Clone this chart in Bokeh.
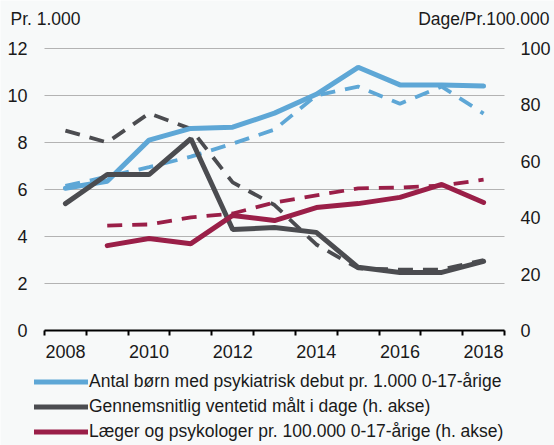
import numpy as np
from bokeh.plotting import figure
from bokeh.models import Range1d, LinearAxis, FixedTicker, Legend, LegendItem
from bokeh.core.properties import value
from bokeh.embed import file_html
from bokeh.resources import INLINE

# ---- data ----
years = list(range(2008, 2019))
born_solid = [6.05, 6.35, 8.1, 8.6, 8.65, 9.25, 10.05, 11.2, 10.45, 10.45, 10.4]
born_dash = [6.15, 6.55, 6.95, 7.4, 7.95, 8.55, 10.0, 10.38, 9.65, 10.38, 9.23]
vent_solid = [45.0, 55.3, 55.3, 68.0, 35.8, 36.5, 34.8, 22.4, 20.6, 20.6, 24.5]
vent_dash = [70.9, 66.7, 77.0, 71.5, 52.5, 44.5, 30.5, 22.0, 21.6, 21.6, 25.0]
laeg_solid = [np.nan, 30.1, 32.6, 30.8, 40.8, 39.0, 43.6, 45.0, 47.2, 51.8, 45.4]
laeg_dash = [np.nan, 37.2, 37.6, 40.1, 41.5, 45.4, 47.9, 50.4, 50.7, 51.4, 53.5]

left_ticks = [0, 2, 4, 6, 8, 10, 12]
right_ticks = [0, 20, 40, 60, 80, 100]
year_ticks = [2008, 2010, 2012, 2014, 2016, 2018]
year_bounds = [2007.5 + i for i in range(12)]

labels = [
    "Antal børn med psykiatrisk debut pr. 1.000 0-17-årige",
    "Gennemsnitlig ventetid målt i dage (h. akse)",
    "Læger og psykologer pr. 100.000 0-17-årige (h. akse)",
]
title_left = "Pr. 1.000"
title_right = "Dage/Pr.100.000"

# ---- style / layout ----
BG = "#f7f9f9"
BLUE = "#5ea7d6"
GRAY = "#4b4c50"
RED = "#9a1f48"
FONT = "Liberation Sans"
TXT = "#1a1a1a"
W, H = 554, 445
PL, PR, PT, PB = 44, 504, 48, 330          # plot area in pixels
X0, X1 = 2007.5, 2018.5
L0, L1 = 0, 12
R0, R1 = 0, 100

xs = (PR - PL) / (X1 - X0)
ls = (PB - PT) / (L1 - L0)
rs = (PB - PT) / (R1 - R0)
x_range = Range1d(X0 - PL / xs, X1 + (W - PR) / xs)
y_range = Range1d(L0 - (H - PB) / ls, L1 + PT / ls)
r_range = Range1d(R0 - (H - PB) / rs, R1 + PT / rs)

p = figure(width=W, height=H, output_backend="svg", toolbar_location=None,
           x_range=x_range, y_range=y_range, min_border=0,
           background_fill_color=BG, border_fill_color=BG, outline_line_color=None)
p.extra_y_ranges = {"right": r_range}

xa = p.xaxis[0]
xa.fixed_location = 0
xa.bounds = (X0, X1)
xa.ticker = FixedTicker(ticks=year_ticks, minor_ticks=year_bounds)
xa.axis_line_color = "black"
xa.axis_line_width = 2
xa.major_tick_out = 0
xa.major_tick_in = 0
xa.minor_tick_out = 5
xa.minor_tick_in = 0
xa.minor_tick_line_color = "black"
xa.minor_tick_line_width = 2
xa.major_label_standoff = 9
xa.major_label_text_font = FONT
xa.major_label_text_font_size = "18px"
xa.major_label_text_color = TXT

ya = p.yaxis[0]
ya.fixed_location = X0
ya.bounds = (L0, L1)
ya.ticker = FixedTicker(ticks=left_ticks)
ya.axis_line_color = None
ya.major_tick_line_color = None
ya.minor_tick_line_color = None
ya.major_tick_out = 0
ya.major_tick_in = 0
ya.minor_tick_out = 0
ya.minor_tick_in = 0
ya.major_label_standoff = 17
ya.major_label_text_font = FONT
ya.major_label_text_font_size = "18px"
ya.major_label_text_color = TXT

ra = LinearAxis(y_range_name="right", ticker=FixedTicker(ticks=right_ticks))
ra.fixed_location = X1
ra.bounds = (R0, R1)
ra.axis_line_color = None
ra.major_tick_line_color = None
ra.minor_tick_line_color = None
ra.major_tick_out = 0
ra.major_tick_in = 0
ra.minor_tick_out = 0
ra.minor_tick_in = 0
ra.major_label_standoff = 16
ra.major_label_text_font = FONT
ra.major_label_text_font_size = "18px"
ra.major_label_text_color = TXT
p.add_layout(ra, "right")

# horizontal gridlines only across the plot area
p.xgrid.visible = False
p.ygrid.visible = False
p.segment(x0=[X0] * len(left_ticks), x1=[X1] * len(left_ticks), y0=left_ticks, y1=left_ticks,
          line_color="#b3b3b3", line_width=1)

DASH = "15 10"
p.line(years, born_dash, line_color=BLUE, line_width=3.8, line_dash=DASH)
p.line(years, vent_dash, line_color=GRAY, line_width=3.8, line_dash=DASH, y_range_name="right")
p.line(years, laeg_dash, line_color=RED, line_width=3.8, line_dash=DASH, y_range_name="right")
r1 = p.line(years, born_solid, line_color=BLUE, line_width=5, line_cap="round")
r2 = p.line(years, vent_solid, line_color=GRAY, line_width=5, line_cap="round", y_range_name="right")
r3 = p.line(years, laeg_solid, line_color=RED, line_width=5, line_cap="round", y_range_name="right")

# axis titles
ty = L1 + (PT - 18) / ls
p.text(x=[X0 - (PL - 10) / xs], y=[ty], text=[title_left], text_align="left",
       text_baseline="middle", text_font=value(FONT), text_font_size="17.5px", text_color=TXT)
p.text(x=[X1 + (549 - PR) / xs], y=[ty], text=[title_right], text_align="right",
       text_baseline="middle", text_font=value(FONT), text_font_size="17.5px", text_color=TXT)

legend = Legend(items=[LegendItem(label=labels[0], renderers=[r1]),
                       LegendItem(label=labels[1], renderers=[r2]),
                       LegendItem(label=labels[2], renderers=[r3])],
                location=(34, 2), orientation="vertical",
                glyph_width=54, glyph_height=23, label_height=23, label_standoff=1,
                spacing=2, padding=0, margin=0,
                border_line_color=None, background_fill_alpha=0,
                label_text_font=FONT, label_text_font_size="17.5px", label_text_color=TXT)
p.add_layout(legend, "center")

open("out.html", "w").write(file_html(p, INLINE))
